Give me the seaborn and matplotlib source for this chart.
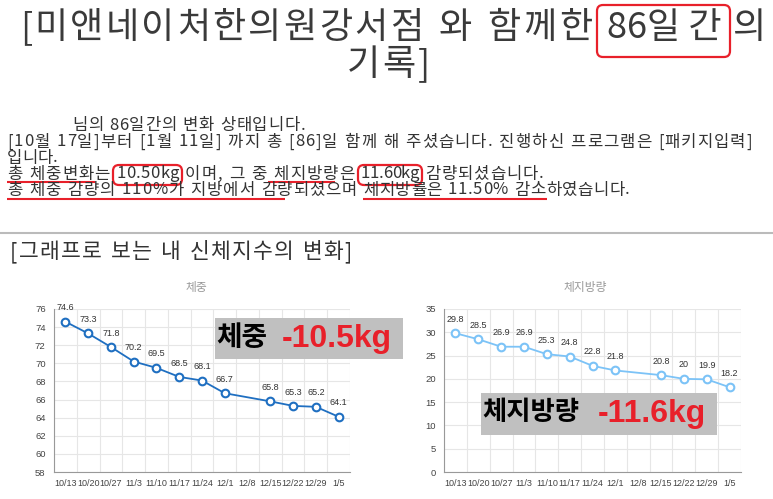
import numpy as np
import pandas as pd
import seaborn as sns
import matplotlib.pyplot as plt
from matplotlib.patches import FancyBboxPatch, Rectangle

#%% data
dates = ["10/13", "10/20", "10/27", "11/3", "11/10", "11/17", "11/24",
         "12/1", "12/8", "12/15", "12/22", "12/29", "1/5"]
weight = [74.6, 73.3, 71.8, 70.2, 69.5, 68.5, 68.1, 66.7, None, 65.8, 65.3, 65.2, 64.1]
fat = [29.8, 28.5, 26.9, 26.9, 25.3, 24.8, 22.8, 21.8, None, 20.8, 20, 19.9, 18.2]
weight_ticks = list(range(58, 77, 2))
fat_ticks = list(range(0, 36, 5))

df = pd.DataFrame({"date": dates, "pos": range(len(dates)),
                   "weight": weight, "fat": fat})

#%% style
sns.set_style("whitegrid")
plt.rcParams["font.family"] = ["Noto Sans CJK KR", "DejaVu Sans"]
KR = ["Noto Sans CJK KR", "DejaVu Sans"]
LAT = ["Liberation Sans", "DejaVu Sans"]
TXT = "#333333"
RED = "#e8202a"
BODY = 12

fig = plt.figure(figsize=(7.73, 4.99), dpi=100)
W, H = 773, 499
ax1 = fig.add_axes([54 / W, 1 - 472 / H, 296 / W, 163 / H])
ax2 = fig.add_axes([444 / W, 1 - 472 / H, 297 / W, 163 / H])


def draw_chart(ax, col, color, ylim, yticks):
    d = df.dropna(subset=[col])
    sns.lineplot(data=d, x="pos", y=col, ax=ax, color=color, linewidth=1.3,
                 marker="o", markersize=5.5, markerfacecolor="white",
                 markeredgecolor=color, markeredgewidth=1.5)
    for _, r in d.iterrows():
        ax.annotate("{:g}".format(r[col]), (r["pos"], r[col]), xytext=(0, 10),
                    textcoords="offset points", ha="center", va="center",
                    fontsize=6.5, color=TXT, family=LAT)
    ax.set_xlim(-0.5, len(dates) - 0.5)
    ax.set_xticks(np.arange(-0.5, len(dates), 1))
    ax.set_xticklabels([])
    ax.set_xticks(range(len(dates)), minor=True)
    ax.set_xticklabels(dates, minor=True, fontsize=6.5, color="#444444", family=LAT)
    ax.tick_params(axis="x", which="minor", length=0, pad=5)
    ax.tick_params(axis="x", which="major", length=4, color="#aaaaaa", width=0.8)
    ax.set_ylim(*ylim)
    ax.set_yticks(yticks)
    ax.set_yticklabels([str(t) for t in yticks], fontsize=6.8, color="#444444", family=LAT)
    ax.tick_params(axis="y", length=4, color="#aaaaaa", width=0.8, pad=2)
    ax.grid(True, which="major", color="#e6e6e6", linewidth=0.8)
    ax.set_xlabel("")
    ax.set_ylabel("")
    for s in ["top", "right"]:
        ax.spines[s].set_visible(False)
    for s in ["left", "bottom"]:
        ax.spines[s].set_color("#999999")
        ax.spines[s].set_linewidth(0.8)


draw_chart(ax1, "weight", "#1f6fc1", (58, 76), weight_ticks)
draw_chart(ax2, "fat", "#7cc3f7", (0, 35), fat_ticks)

#%% overlay in pixel coordinates
ov = fig.add_axes([0, 0, 1, 1], zorder=10)
ov.set_xlim(0, W)
ov.set_ylim(H, 0)
ov.axis("off")
ov.patch.set_alpha(0)
renderer = fig.canvas.get_renderer()


def red_box(x0, y0, x1, y1):
    ov.add_patch(FancyBboxPatch((x0, y0), x1 - x0, y1 - y0,
                                boxstyle="round,pad=0,rounding_size=6",
                                fill=False, edgecolor=RED, linewidth=1.6))


def underline(x0, x1, y):
    ov.plot([x0, x1], [y, y], color=RED, linewidth=1.5, solid_capstyle="butt")


def spread(x0, x1, y, s, size=BODY, color=TXT):
    # letter-spaced text from x0 to x1 (the original font has wide spacing)
    items = []
    for ch in s:
        if ch == " ":
            items.append((None, size * 0.3 * 100 / 72))
        else:
            t = ov.text(0, y, ch, va="center", fontsize=size, color=color)
            items.append((t, t.get_window_extent(renderer=renderer).width))
    gap = (x1 - x0 - sum(w for _, w in items)) / max(len(items) - 1, 1)
    x = x0
    for t, w in items:
        if t is not None:
            t.set_x(x)
        x += w + gap


# title
spread(20, 592, 28, "[미앤네이처한의원강서점 와 함께한", size=26, color="#3a3a3a")
ov.text(664, 28, "86일 간", ha="center", va="center", fontsize=26, color="#3a3a3a")
ov.text(733, 28, "의", ha="left", va="center", fontsize=26, color="#3a3a3a")
spread(347, 430, 65, "기록]", size=26, color="#3a3a3a")
red_box(597, 5, 730, 57)

# body text
spread(72, 305, 125, "님의 86일간의 변화 상태입니다.")
spread(7, 752, 142, "[10월 17일]부터 [1월 11일] 까지 총 [86]일 함께 해 주셨습니다. 진행하신 프로그램은 [패키지입력]")
spread(7, 58, 158, "입니다.")
spread(7, 110, 174, "총 체중변화는")
spread(116, 179, 174, "10.50kg")
spread(185, 354, 174, "이며, 그 중 체지방량은")
spread(361, 419, 174, "11.60kg")
spread(425, 543, 174, "감량되셨습니다.")
spread(7, 357, 190, "총 체중 감량의 110%가 지방에서 감량되셨으며")
spread(363, 630, 190, "체지방률은 11.50% 감소하였습니다.")
red_box(113, 165, 182, 185)
red_box(358, 165, 422, 185)
underline(7, 95, 182)
underline(268, 335, 182)
underline(7, 285, 199)
underline(363, 547, 199)

# separator and section heading
ov.plot([0, W], [233, 233], color="#bbbbbb", linewidth=1.5)
spread(10, 352, 252, "[그래프로 보는 내 신체지수의 변화]", size=15.5)

# chart titles
ov.text(196, 288, "체중", ha="center", va="center", fontsize=8.5, color="#999999")
ov.text(585, 288, "체지방량", ha="center", va="center", fontsize=8.5, color="#999999")

# grey call-out boxes
ov.add_patch(Rectangle((215, 318), 188, 41, facecolor="#c0c0c0", edgecolor="none"))
ov.text(216, 338, "체중", va="center", fontsize=20, weight="bold", color="black", family=KR)
ov.text(282, 339, "-10.5kg", va="center", fontsize=23, weight="bold", color=RED, family=LAT)
ov.add_patch(Rectangle((481, 393), 236, 42, facecolor="#c0c0c0", edgecolor="none"))
ov.text(482, 413, "체지방량", va="center", fontsize=19, weight="bold", color="black", family=KR)
ov.text(598, 414, "-11.6kg", va="center", fontsize=23, weight="bold", color=RED, family=LAT)

fig.savefig("out.png", dpi=100)
